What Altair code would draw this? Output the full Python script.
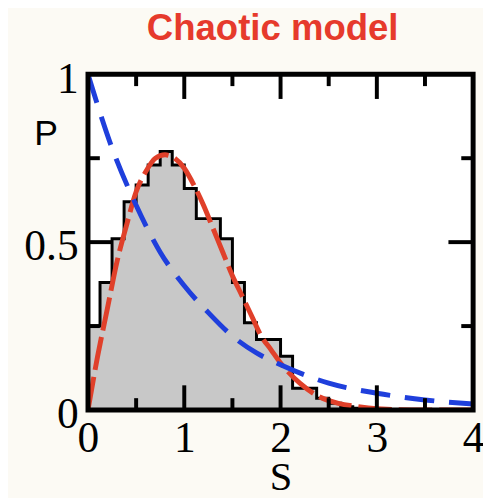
import altair as alt
import pandas as pd

# ---- data ----
# histogram: left bin edges (width 0.125) and bar heights
bin_left = [0.0, 0.125, 0.25, 0.375, 0.5, 0.625, 0.75, 0.875, 1.0, 1.125, 1.25, 1.375,
            1.5, 1.625, 1.75, 1.875, 2.0, 2.125, 2.25, 2.375, 2.5, 2.625, 2.75, 2.875]
bin_height = [0.25, 0.38, 0.51, 0.62, 0.67, 0.73, 0.77, 0.73, 0.66, 0.57, 0.57, 0.51,
              0.38, 0.26, 0.21, 0.21, 0.16, 0.065, 0.065, 0.035, 0.02, 0.01, 0.005, 0.0]

# red curve (chaotic / Wigner-like)
red_s = [0, 0.1, 0.2, 0.3, 0.4, 0.5, 0.6, 0.7, 0.8, 0.9, 1.0, 1.1, 1.2, 1.3, 1.4, 1.5,
         1.6, 1.7, 1.8, 1.9, 2.0, 2.2, 2.4, 2.6, 2.8, 3.0, 3.5, 4.0]
red_p = [0.0, 0.16, 0.30, 0.44, 0.55, 0.65, 0.71, 0.75, 0.76, 0.75, 0.72, 0.67, 0.61,
         0.54, 0.47, 0.40, 0.34, 0.28, 0.22, 0.18, 0.14, 0.08, 0.04, 0.02, 0.01, 0.004,
         0.0, 0.0]

# blue dashed curve (regular / Poisson-like)
blue_s = [0, 0.25, 0.5, 0.75, 1.0, 1.25, 1.5, 1.75, 2.0, 2.5, 3.0, 3.5, 4.0]
blue_p = [1.0, 0.78, 0.61, 0.47, 0.37, 0.29, 0.22, 0.17, 0.135, 0.08, 0.05, 0.03, 0.018]

x_ticks = [0, 1, 2, 3, 4]
y_ticks = [0, 0.5, 1]
x_major_inner = [1, 2, 3]
x_minor = [0.5, 1.5, 2.5, 3.5]
y_major_inner = [0.5]
y_minor = [0.25, 0.75]

W, H = 390, 340
MAJ, MIN = 25, 12

hist_df = pd.DataFrame({"s": bin_left, "p": bin_height})
red_df = pd.DataFrame({"s": red_s, "p": red_p})
blue_df = pd.DataFrame({"s": blue_s, "p": blue_p})
frame_df = pd.DataFrame({"s": [0], "s2": [4], "p": [0], "p2": [1]})

xs = alt.Scale(domain=[0, 4], nice=False)
ys = alt.Scale(domain=[0, 1], nice=False)

serif = "Liberation Serif"
sans = "Liberation Sans"

x_axis = alt.Axis(values=x_ticks, format="~g", domain=False, ticks=False, grid=False,
                  labelFont=serif, labelFontSize=44, labelColor="black", labelPadding=7,
                  labelFlush=False, title="S", titleFont=serif, titleFontSize=41,
                  titleFontWeight="normal", titleColor="black", titleY=68,
                  titleBaseline="middle")
y_axis = alt.Axis(values=y_ticks, format="~g", domain=False, ticks=False, grid=False,
                  labelFont=serif, labelFontSize=44, labelColor="black", labelPadding=10,
                  labelOffset=5, labelFlush=False, title="P", titleFont=sans,
                  titleFontSize=36, titleFontWeight="normal", titleColor="black",
                  titleAngle=0, titleX=-43, titleY=60, titleAlign="center",
                  titleBaseline="middle")

X = alt.X("s:Q", scale=xs, axis=x_axis)
Y = alt.Y("p:Q", scale=ys, axis=y_axis)

area = alt.Chart(hist_df).mark_area(interpolate="step-after", color="#c8c8c8").encode(x=X, y=Y)
outline = alt.Chart(hist_df).mark_line(interpolate="step-after", color="black",
                                       strokeWidth=3).encode(x=X, y=Y)

red = alt.Chart(red_df).mark_line(interpolate="monotone", color="#e0402a", strokeWidth=5,
                                  strokeDash=[34, 7], clip=True).encode(x=X, y=Y)
blue = alt.Chart(blue_df).mark_line(interpolate="monotone", color="#1f3fdc", strokeWidth=5,
                                    strokeDash=[30, 15], clip=True).encode(x=X, y=Y)


def xtick_layer(vals, length):
    d = pd.DataFrame({"s": vals})
    base = alt.Chart(d).mark_rule(color="black", strokeWidth=4)
    bottom = base.encode(x=X, y=alt.value(H), y2=alt.value(H - length))
    top = base.encode(x=X, y=alt.value(0), y2=alt.value(length))
    return [bottom, top]


def ytick_layer(vals, length):
    d = pd.DataFrame({"p": vals})
    base = alt.Chart(d).mark_rule(color="black", strokeWidth=4)
    left = base.encode(y=Y, x=alt.value(0), x2=alt.value(length))
    right = base.encode(y=Y, x=alt.value(W), x2=alt.value(W - length))
    return [left, right]


ticks = (xtick_layer(x_major_inner, MAJ) + xtick_layer(x_minor, MIN)
         + ytick_layer(y_major_inner, MAJ) + ytick_layer(y_minor, MIN))

frame = alt.Chart(frame_df).mark_rect(fillOpacity=0, stroke="black", strokeWidth=5).encode(
    x=X, x2="s2:Q", y=Y, y2="p2:Q")

chart = alt.layer(area, outline, red, blue, *ticks, frame).properties(
    width=W, height=H,
    title=alt.TitleParams("Chaotic model", font=sans, fontSize=37, fontWeight="bold",
                          color="#e63a2c", anchor="middle", offset=10, dx=-8),
    autosize=alt.AutoSizeParams(type="none"),
    padding={"left": 81, "top": 64, "right": 10, "bottom": 86},
    background="#fcfaf4",
).configure_view(fill="white", stroke=None)

chart.save("out.html", embed_options={"renderer": "svg", "actions": False})
